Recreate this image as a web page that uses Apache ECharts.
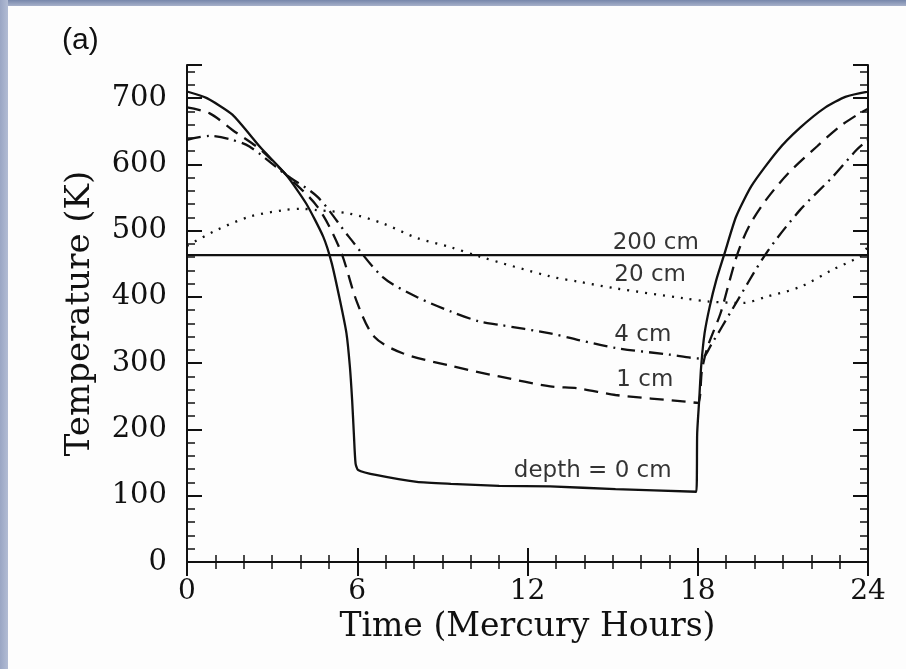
<!DOCTYPE html>
<html>
<head>
<meta charset="utf-8">
<script src="https://cdn.jsdelivr.net/npm/echarts@6/dist/echarts.min.js"></script>
<style>
  html, body { margin: 0; padding: 0; background: #fdfdfd; }
  #main { width: 906px; height: 669px; }
</style>
</head>
<body>
<div id="main"></div>
<script>
// depth = 0 cm (surface)
const surfaceHours = [0, 0.7, 1.6, 2.6, 3.5, 4.2, 4.8, 5.1, 5.4, 5.62, 5.74, 5.82, 5.88, 5.94, 6.03, 6.7, 8.1, 9.3, 11, 12.8, 15.1, 17.95,
  17.98, 18.05, 18.12, 18.24, 18.42, 18.65, 18.94, 19.35, 19.9, 20.8, 21.6, 22.5, 23.2, 24];
const surfaceTemp = [710, 700, 675, 625, 584, 541, 491, 451, 393, 345, 295, 244, 194, 149, 139, 131, 121, 118, 115, 114, 110, 106,
  194, 244, 295, 345, 385, 425, 465, 521, 568, 620, 655, 686, 702, 710];

// 1 cm
const cm1Hours = [0, 0.8, 1.6, 2.6, 3.5, 4.6, 5.4, 6.0, 6.6, 7.6, 9.3, 11, 12.8, 13.8, 15.1, 17.6, 18.0, 18.15, 18.35, 18.8, 19.1, 19.4, 19.8, 20.4, 21.2, 22.2, 23.0, 23.7, 24];
const cm1Temp = [686, 677, 652, 622, 584, 536, 471, 391, 340, 315, 296, 280, 265, 262, 252, 242, 240, 290, 325, 375, 421, 465, 506, 546, 587, 627, 657, 677, 684];

// 4 cm
const cm4Hours = [0, 0.8, 1.5, 2.2, 3.5, 4.6, 5.7, 6.9, 8.1, 9.3, 10.3, 11, 12.8, 13.8, 15.1, 17, 18.1, 18.5, 19.2, 20.4, 21.6, 22.75, 23.6, 24];
const cm4Temp = [637, 643, 638, 627, 584, 551, 491, 430, 400, 378, 363, 358, 345, 335, 323, 313, 307, 330, 380, 465, 531, 581, 622, 637];

// 20 cm
const cm20Hours = [0, 1.05, 2.2, 3.4, 4, 4.6, 5.7, 6.9, 8.1, 9.3, 10.3, 12.8, 13.8, 15.1, 17.5, 18.4, 19.6, 20.4, 21.6, 22.75, 23.7, 24];
const cm20Temp = [477, 501, 521, 531, 533, 531, 526, 511, 489, 475, 461, 431, 423, 413, 398, 393, 391, 400, 415, 441, 461, 476];

// 200 cm
const cm200Hours = [0, 24];
const cm200Temp = [463, 463];

// curve labels
const labelTexts = ['200 cm', '20 cm', '4 cm', '1 cm', 'depth = 0 cm'];
const labelHours = [15.0, 15.06, 15.06, 15.13, 17.08];
const labelTemps = [481, 433, 343, 275, 137];
const labelSide = ['right', 'right', 'right', 'right', 'left'];

const ink = '#111';
const serif = 'DejaVu Serif';

function pairs(xs, ys) {
  return xs.map((x, i) => [x, ys[i]]);
}

function curve(name, xs, ys, type, smooth) {
  return {
    name: name,
    type: 'line',
    data: pairs(xs, ys),
    showSymbol: false,
    symbol: 'none',
    smooth: smooth,
    lineStyle: { color: ink, width: 2.3, type: type },
    silent: true
  };
}

const chart = echarts.init(document.getElementById('main'));

function xAx(pos, showLabel) {
  return {
    type: 'value', min: 0, max: 24, interval: 6, position: pos,
    axisLine: { show: true, lineStyle: { color: ink, width: 2 } },
    axisTick: { show: true, inside: true, length: 14, lineStyle: { color: ink, width: 2 } },
    minorTick: { show: true, splitNumber: 6, length: 7, lineStyle: { color: ink, width: 1.5 } },
    splitLine: { show: false },
    axisLabel: { show: showLabel, color: ink, fontFamily: serif, fontSize: 28, margin: 16 },
    name: showLabel ? 'Time (Mercury Hours)' : '',
    nameLocation: 'middle',
    nameGap: 48,
    nameTextStyle: { color: ink, fontFamily: serif, fontSize: 33 }
  };
}

function yAx(pos, interval, tickLen, isMain, showLabel) {
  return {
    type: 'value', min: 0, max: 750, interval: interval, position: pos,
    axisLine: { show: isMain, lineStyle: { color: ink, width: 2 } },
    axisTick: { show: true, inside: true, length: tickLen, lineStyle: { color: ink, width: isMain ? 2 : 1.5 } },
    splitLine: { show: false },
    axisLabel: {
      show: showLabel, color: ink, fontFamily: serif, fontSize: 29, margin: 20,
      formatter: v => (v % 100 === 0 ? String(v) : '')
    },
    name: showLabel ? 'Temperature (K)' : '',
    nameLocation: 'middle',
    nameGap: 90,
    nameRotate: 90,
    nameTextStyle: { color: ink, fontFamily: serif, fontSize: 34 }
  };
}

chart.setOption({
  animation: false,
  backgroundColor: '#fdfdfd',
  grid: { left: 187, right: 38, top: 65, bottom: 107 },
  xAxis: [xAx('bottom', true), xAx('top', false)],
  yAxis: [
    yAx('left', 100, 15, true, true),
    yAx('left', 20, 8, false, false),
    yAx('right', 100, 15, true, false),
    yAx('right', 20, 8, false, false)
  ],
  graphic: [
    {
      type: 'rect', left: 0, top: 0, silent: true,
      shape: { width: 906, height: 6 },
      style: { fill: new echarts.graphic.LinearGradient(0, 0, 0, 1, [
        { offset: 0, color: '#7787ab' }, { offset: 1, color: '#a7b1ca' }]) }
    },
    {
      type: 'rect', left: 0, top: 0, silent: true,
      shape: { width: 8, height: 669 },
      style: { fill: new echarts.graphic.LinearGradient(0, 0, 1, 0, [
        { offset: 0, color: '#9aa6c4' }, { offset: 1, color: '#b2bcd4' }]) }
    },
    {
      type: 'text', left: 62, top: 26, silent: true,
      style: { text: '(a)', fill: ink, font: '30px "Liberation Sans"' }
    }
  ],
  series: [
    curve('0 cm', surfaceHours, surfaceTemp, 'solid', 0.2),
    curve('1 cm', cm1Hours, cm1Temp, [14, 8], 0.3),
    curve('4 cm', cm4Hours, cm4Temp, [14, 6, 2, 6], 0.3),
    curve('20 cm', cm20Hours, cm20Temp, [2, 7], 0.3),
    curve('200 cm', cm200Hours, cm200Temp, 'solid', false),
    {
      type: 'scatter',
      symbolSize: 0,
      silent: true,
      data: labelTexts.map((t, i) => ({
        value: [labelHours[i], labelTemps[i]],
        name: t,
        label: { position: labelSide[i] }
      })),
      label: {
        show: true,
        distance: 0,
        formatter: p => p.name,
        color: '#000',
        textBorderWidth: 0,
        fontFamily: 'DejaVu Sans',
        fontSize: 23
      }
    }
  ]
});
</script>
</body>
</html>
